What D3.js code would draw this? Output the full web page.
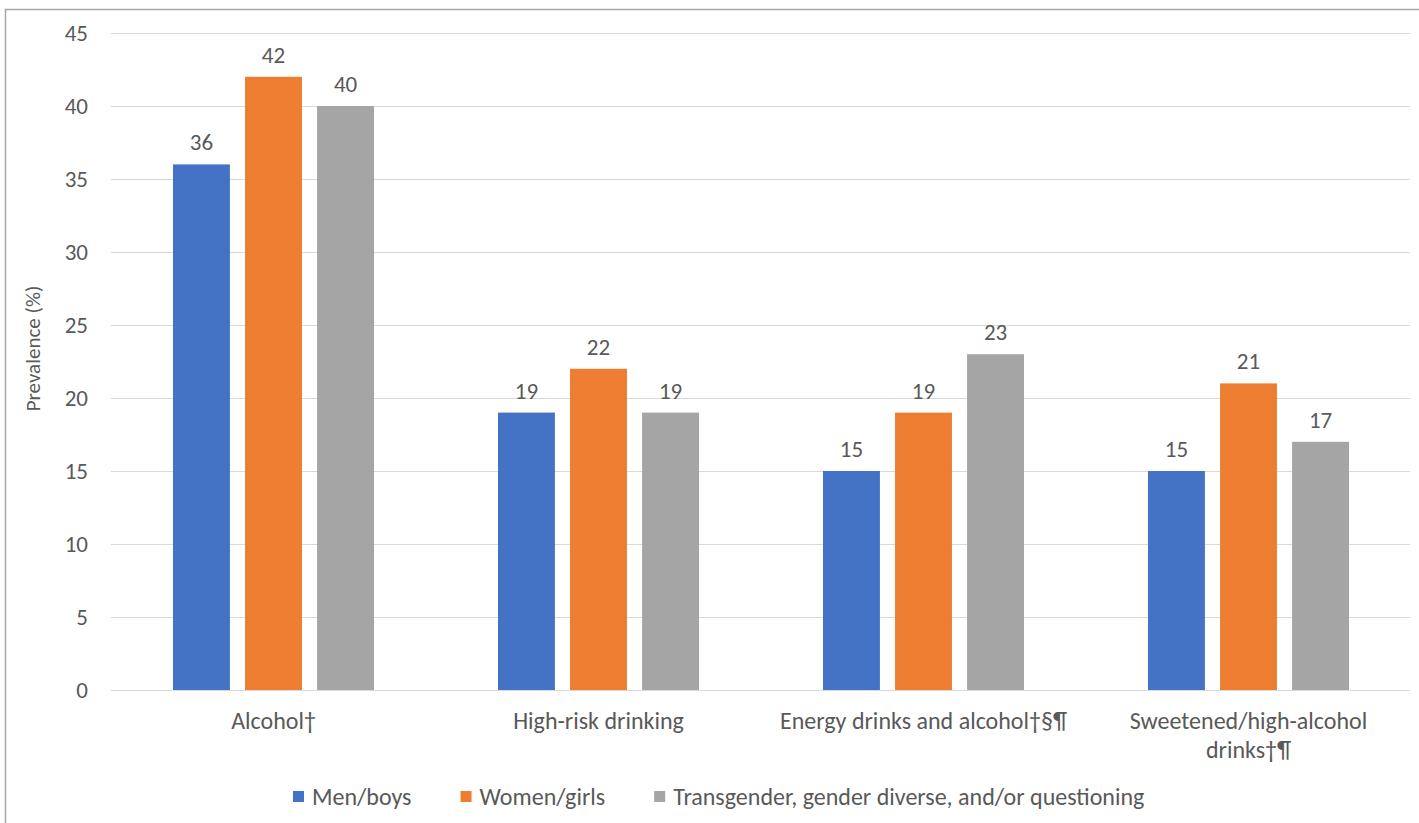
<!DOCTYPE html>
<html>
<head>
<meta charset="utf-8">
<script src="https://cdn.jsdelivr.net/npm/d3@7"></script>
<style>
  html, body { margin: 0; padding: 0; background: #fff; }
  svg { display: block; }
  text { font-family: Carlito, Calibri, "Open Sans", sans-serif; fill: #595959; }
</style>
</head>
<body>
<svg id="chart" width="1419" height="823"></svg>
<script>
// Categories and series (prevalence, %)
const categories = ["Alcohol\u2020", "High-risk drinking", "Energy drinks and alcohol\u2020\u00a7\u00b6", "Sweetened/high-alcohol drinks\u2020\u00b6"];
const categoryLines = [["Alcohol\u2020"], ["High-risk drinking"], ["Energy drinks and alcohol\u2020\u00a7\u00b6"], ["Sweetened/high-alcohol", "drinks\u2020\u00b6"]];
const seriesNames = ["Men/boys", "Women/girls", "Transgender, gender diverse, and/or questioning"];
const menBoys = [36, 19, 15, 15];
const womenGirls = [42, 22, 19, 21];
const transgender = [40, 19, 23, 17];
const seriesColors = ["#4472c4", "#ed7d31", "#a5a5a5"];
const yTicks = [0, 5, 10, 15, 20, 25, 30, 35, 40, 45];
const yTitle = "Prevalence (%)";

const series = [menBoys, womenGirls, transgender];
const FONT = "Carlito, Calibri, 'Open Sans', sans-serif";

const svg = d3.select("#chart");

// Outer frame of the chart area
svg.append("rect")
  .attr("x", 5.5).attr("y", 9.5)
  .attr("width", 1440).attr("height", 840)
  .attr("fill", "none").attr("stroke", "#a6a6a6").attr("stroke-width", 1.5);

const plot = { left: 111, right: 1411, top: 33, bottom: 690 };

const y = d3.scaleLinear().domain([0, 45]).range([plot.bottom, plot.top]);
const x0 = d3.scaleBand().domain(categories).range([plot.left, plot.right]).paddingInner(0).paddingOuter(0);
const x1 = d3.scaleBand().domain(d3.range(series.length))
  .range([62, x0.bandwidth() - 62]).paddingInner(0.21).paddingOuter(0);

// Gridlines
svg.append("g")
  .selectAll("line")
  .data(yTicks)
  .join("line")
  .attr("x1", plot.left).attr("x2", plot.right - 1)
  .attr("y1", d => Math.round(y(d)) + 0.5).attr("y2", d => Math.round(y(d)) + 0.5)
  .attr("stroke", "#d9d9d9").attr("stroke-width", 1);

// Y axis labels
const yAxis = d3.axisLeft(y).tickValues(yTicks).tickSize(0).tickPadding(0);
const yg = svg.append("g").attr("transform", `translate(88,0)`).call(yAxis);
yg.select(".domain").remove();
yg.selectAll("text")
  .attr("font-size", 23).attr("fill", "#595959").attr("dy", "0.34em")
  .style("font-family", FONT);

// Y axis title
svg.append("text")
  .attr("transform", `translate(40,${(plot.top + plot.bottom) / 2 - 13}) rotate(-90)`)
  .attr("text-anchor", "middle")
  .attr("font-size", 21)
  .text(yTitle);

// Bars
const groups = svg.append("g")
  .selectAll("g")
  .data(categories)
  .join("g")
  .attr("transform", d => `translate(${x0(d)},0)`);

groups.selectAll("rect")
  .data((d, i) => series.map((s, k) => ({ k, v: s[i] })))
  .join("rect")
  .attr("x", d => x1(d.k))
  .attr("width", x1.bandwidth())
  .attr("y", d => y(d.v))
  .attr("height", d => y(0) - y(d.v))
  .attr("fill", d => seriesColors[d.k]);

// Value labels
groups.selectAll("text.val")
  .data((d, i) => series.map((s, k) => ({ k, v: s[i] })))
  .join("text")
  .attr("class", "val")
  .attr("x", d => x1(d.k) + x1.bandwidth() / 2)
  .attr("y", d => y(d.v) - 14)
  .attr("text-anchor", "middle")
  .attr("font-size", 23)
  .attr("fill", "#404040")
  .text(d => d.v);

// Category labels
const xl = svg.append("g")
  .selectAll("text")
  .data(categories)
  .join("text")
  .attr("x", d => x0(d) + x0.bandwidth() / 2)
  .attr("y", 729)
  .attr("text-anchor", "middle")
  .attr("font-size", 24);
xl.selectAll("tspan")
  .data((d, i) => categoryLines[i])
  .join("tspan")
  .attr("x", function () { return d3.select(this.parentNode).attr("x"); })
  .attr("dy", (d, j) => j === 0 ? 0 : 29)
  .text(d => d);

// Legend: swatch, label, then a fixed gap before the next entry
const legend = svg.append("g");
let lx = 293;
seriesNames.forEach((name, k) => {
  legend.append("rect").attr("x", lx).attr("y", 791).attr("width", 11).attr("height", 11).attr("fill", seriesColors[k]);
  const t = legend.append("text").attr("x", lx + 19).attr("y", 805).attr("font-size", 24).text(name);
  lx += 19 + t.node().getComputedTextLength() + 49;
});
</script>
</body>
</html>
